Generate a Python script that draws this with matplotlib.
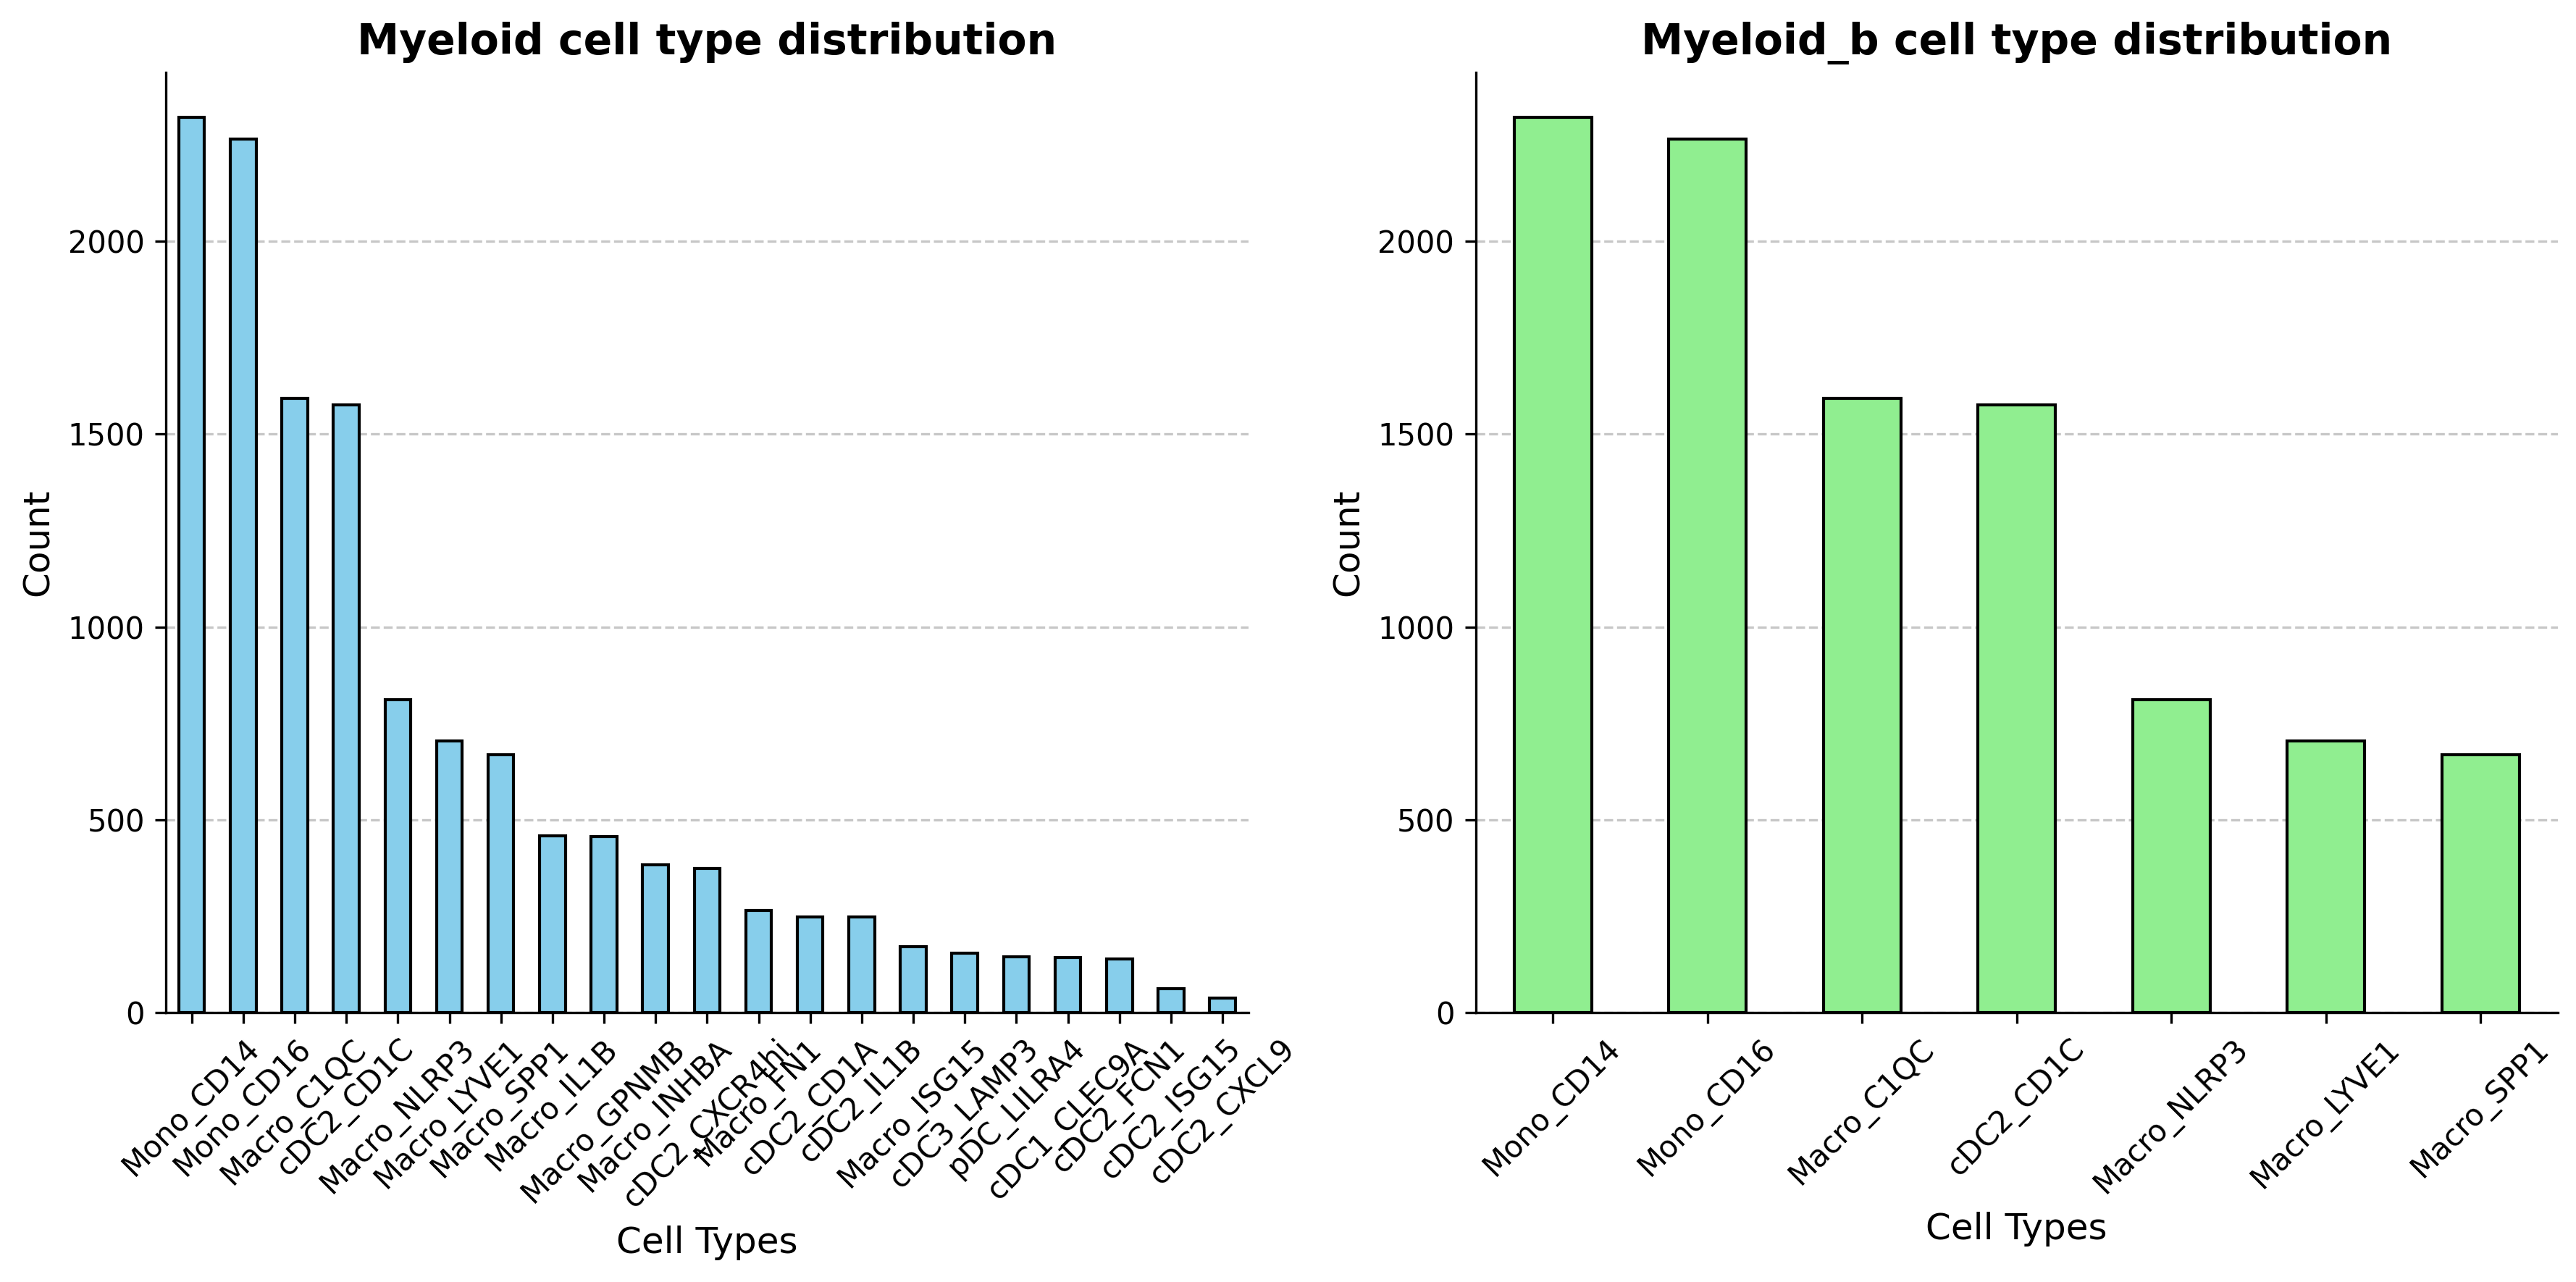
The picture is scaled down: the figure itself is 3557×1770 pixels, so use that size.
import numpy as np
import matplotlib
matplotlib.use("Agg")
import matplotlib.pyplot as plt

# counts
cell_types = ['Mono_CD14', 'Mono_CD16', 'Macro_C1QC', 'cDC2_CD1C', 'Macro_NLRP3',
              'Macro_LYVE1', 'Macro_SPP1', 'Macro_IL1B', 'Macro_GPNMB', 'Macro_INHBA',
              'cDC2_CXCR4hi', 'Macro_FN1', 'cDC2_CD1A', 'cDC2_IL1B', 'Macro_ISG15',
              'cDC3_LAMP3', 'pDC_LILRA4', 'cDC1_CLEC9A', 'cDC2_FCN1', 'cDC2_ISG15',
              'cDC2_CXCL9']
counts = [2322, 2266, 1593, 1576, 811, 705, 668, 458, 457, 383, 373, 264, 247, 247,
          170, 153, 144, 142, 138, 61, 37]

# Myeloid_b keeps only the top 7 types
b_types = cell_types[:7]
b_counts = counts[:7]


def bar_panel(ax, labels, values, color, title):
    x = np.arange(len(labels))
    ax.bar(x, values, width=0.5, color=color, edgecolor='black', linewidth=1.0, zorder=3)
    ax.set_xticks(x)
    ax.set_xticklabels(labels, rotation=45, fontsize=10)
    ax.set_xlim(-0.5, len(labels) - 0.5)
    ax.set_title(title, fontsize=14, fontweight='bold')
    ax.set_xlabel('Cell Types', fontsize=12)
    ax.set_ylabel('Count', fontsize=12)
    ax.tick_params(axis='y', labelsize=10)
    ax.grid(axis='y', linestyle='--', alpha=0.7, zorder=0)
    ax.spines['top'].set_visible(False)
    ax.spines['right'].set_visible(False)
# end def


fig, (ax1, ax2) = plt.subplots(1, 2, figsize=(3557 / 300, 1770 / 300))
bar_panel(ax1, cell_types, counts, 'skyblue', 'Myeloid cell type distribution')
bar_panel(ax2, b_types, b_counts, 'lightgreen', 'Myeloid_b cell type distribution')
fig.subplots_adjust(left=0.0644, right=0.993, bottom=0.2102, top=0.9435, wspace=0.21)
fig.savefig('out.png', dpi=300)
plt.close()
